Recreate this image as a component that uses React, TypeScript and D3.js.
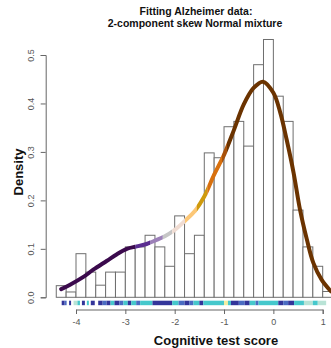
import React, { useEffect, useRef } from 'react';
import * as d3 from 'd3';

// histogram: bins of width 0.2 starting at -4.4
const binStart = -4.4;
const binWidth = 0.2;
const binDensity = [
  0.024, 0.011, 0.090, 0.052, 0.025, 0.052, 0.052, 0.104, 0.104, 0.128,
  0.104, 0.064, 0.168, 0.090, 0.128, 0.298, 0.288, 0.352, 0.363, 0.312,
  0.480, 0.532, 0.415, 0.363, 0.180, 0.104, 0.064, 0.012,
];

// fitted mixture density
const curveX = [
  -4.30, -4.12, -3.85, -3.65, -3.38, -3.17, -2.97, -2.77, -2.57, -2.40,
  -2.20, -2.00, -1.80, -1.60, -1.40, -1.20, -1.00, -0.80, -0.60, -0.40,
  -0.21, 0.00, 0.14, 0.27, 0.41, 0.54, 0.68, 0.81, 0.98, 1.17,
];
const curveY = [
  0.017, 0.026, 0.042, 0.057, 0.075, 0.089, 0.100, 0.105, 0.110, 0.117,
  0.126, 0.139, 0.157, 0.177, 0.208, 0.253, 0.294, 0.345, 0.398, 0.432,
  0.445, 0.422, 0.381, 0.325, 0.257, 0.181, 0.119, 0.071, 0.036, 0.012,
];

// colour bands along the curve (component membership)
const bandBreaks = [-2.80, -2.50, -2.24, -2.05, -1.79, -1.55, -1.34, -1.04, -0.94];
const bandColors = [
  '#3b0a4d', '#5a2d90', '#9c80b8', '#c6c6c6', '#f0dcd2',
  '#fcc777', '#cf9a0c', '#d8700e', '#a8510a', '#6b3300',
];

// rug strip: [from, to, colour code]
const rugSegs: [number, number, string][] = [
  [-4.29, -4.23, 'd'], [-4.23, -4.19, 'b'], [-4.14, -4.10, 'd'],
  [-4.05, -3.97, 'l'], [-3.97, -3.92, 'c'], [-3.88, -3.82, 'd'],
  [-3.78, -3.74, 'c'], [-3.70, -3.62, 'd'], [-3.55, -3.46, 'd'],
  [-3.46, -3.38, 'b'], [-3.38, -3.30, 'd'], [-3.30, -3.22, 'c'],
  [-3.22, -3.12, 'd'], [-3.12, -3.04, 'b'], [-3.04, -2.95, 'c'],
  [-2.95, -2.88, 'd'], [-2.88, -2.78, 'c'], [-2.78, -2.70, 'b'],
  [-2.70, -2.45, 'c'], [-2.45, -2.05, 'd'], [-2.05, -1.92, 'c'],
  [-1.92, -1.80, 'b'], [-1.80, -1.70, 'd'], [-1.70, -1.62, 'b'],
  [-1.62, -1.50, 'c'], [-1.50, -1.42, 'd'], [-1.42, -1.00, 'c'],
  [-1.00, -0.92, 'y'], [-0.92, -0.86, 'c'], [-0.86, -0.70, 'd'],
  [-0.70, -0.58, 'b'], [-0.58, -0.48, 'd'], [-0.48, -0.36, 'c'],
  [-0.36, -0.30, 'b'], [-0.30, 0.10, 'c'], [0.10, 0.20, 'd'],
  [0.20, 0.30, 'b'], [0.30, 0.42, 'd'], [0.42, 0.62, 'c'],
  [0.62, 0.80, 'l'], [0.80, 0.90, 'c'], [0.90, 1.07, 'l'],
];
const rugColor: Record<string, string> = {
  d: '#33359a', b: '#4a6cc2', c: '#45c8cc', l: '#b9e3d6', y: '#f2eea2',
};

const xTicks = [-4, -3, -2, -1, 0, 1];
const yTicks = [0, 0.1, 0.2, 0.3, 0.4, 0.5];

const App = () => {
  const ref = useRef<HTMLDivElement>(null);

  useEffect(() => {
    d3.select(ref.current).selectAll('*').remove();

    const W = 331;
    const H = 348;
    const font = 'Liberation Sans, Arial, sans-serif';

    const x = d3.scaleLinear().domain([-4, 1]).range([76, 322.7]);
    const y = d3.scaleLinear().domain([0, 0.5]).range([297.3, 55]);

    const svg = d3.select(ref.current)
      .append('svg')
      .attr('width', W)
      .attr('height', H)
      .style('position', 'absolute')
      .style('left', 0)
      .style('top', 0)
      .style('background', '#fff');

    // title
    const title = svg.append('g')
      .attr('font-family', font)
      .attr('font-weight', 'bold')
      .attr('font-size', 10.5)
      .attr('text-anchor', 'middle')
      .attr('fill', '#111');
    title.append('text').attr('x', 196).attr('y', 15).text('Fitting Alzheimer data:');
    title.append('text').attr('x', 195).attr('y', 27).text('2-component skew Normal mixture');

    // histogram bars
    svg.append('g')
      .selectAll('rect')
      .data(binDensity)
      .enter().append('rect')
      .attr('x', (d, i) => x(binStart + i * binWidth))
      .attr('y', d => y(d))
      .attr('width', x(binWidth) - x(0))
      .attr('height', d => y(0) - y(d))
      .attr('fill', '#fff')
      .attr('stroke', '#6e6e6e')
      .attr('stroke-width', 1);

    // fitted curve, coloured by band using clip rects
    const pts = curveX.map((v, i) => [v, curveY[i]] as [number, number]);
    const line = d3.line<[number, number]>()
      .x(d => x(d[0]))
      .y(d => y(d[1]))
      .curve(d3.curveCatmullRom.alpha(0.5));
    const pathD = line(pts) as string;

    const defs = svg.append('defs');
    const edges = [-10, ...bandBreaks, 10];
    bandColors.forEach((col, i) => {
      const x0 = Math.max(0, x(edges[i]));
      const x1 = Math.min(W, x(edges[i + 1]));
      defs.append('clipPath')
        .attr('id', `band${i}`)
        .append('rect')
        .attr('x', x0)
        .attr('y', 0)
        .attr('width', x1 - x0)
        .attr('height', H);
      svg.append('path')
        .attr('d', pathD)
        .attr('clip-path', `url(#band${i})`)
        .attr('fill', 'none')
        .attr('stroke', col)
        .attr('stroke-width', 4)
        .attr('stroke-linecap', 'round');
    });

    // rug strip
    svg.append('g')
      .selectAll('rect')
      .data(rugSegs)
      .enter().append('rect')
      .attr('x', d => x(d[0]))
      .attr('y', 300.7)
      .attr('width', d => x(d[1]) - x(d[0]))
      .attr('height', 4.5)
      .attr('fill', d => rugColor[d[2]]);

    // x axis
    const xAxis = svg.append('g')
      .attr('transform', 'translate(0,309.5)')
      .call(d3.axisBottom(x).tickValues(xTicks).tickSize(4.5).tickPadding(5)
        .tickFormat(d => String(d)));
    xAxis.select('.domain').attr('stroke', '#666');
    xAxis.selectAll('line').attr('stroke', '#666');
    xAxis.selectAll('text')
      .attr('font-family', font)
      .attr('font-size', 9)
      .attr('fill', '#555');

    // y axis
    const yAxis = svg.append('g')
      .attr('transform', 'translate(45.7,0)')
      .call(d3.axisLeft(y).tickValues(yTicks).tickSize(5).tickFormat(d3.format('.1f')));
    yAxis.select('.domain').attr('stroke', '#666');
    yAxis.selectAll('line').attr('stroke', '#666');
    yAxis.selectAll('text')
      .attr('font-family', font)
      .attr('font-size', 9)
      .attr('fill', '#555')
      .attr('text-anchor', 'middle')
      .attr('dy', 0)
      .attr('x', 0)
      .attr('transform', 'translate(-12,0) rotate(-90)');

    // axis titles
    svg.append('text')
      .attr('x', 216)
      .attr('y', 345)
      .attr('text-anchor', 'middle')
      .attr('font-family', font)
      .attr('font-weight', 'bold')
      .attr('font-size', 13)
      .attr('fill', '#111')
      .text('Cognitive test score');

    svg.append('text')
      .attr('transform', 'translate(23,172) rotate(-90)')
      .attr('text-anchor', 'middle')
      .attr('font-family', font)
      .attr('font-weight', 'bold')
      .attr('font-size', 13)
      .attr('fill', '#111')
      .text('Density');
  }, []);

  return <div ref={ref}></div>;
};

export default App;
